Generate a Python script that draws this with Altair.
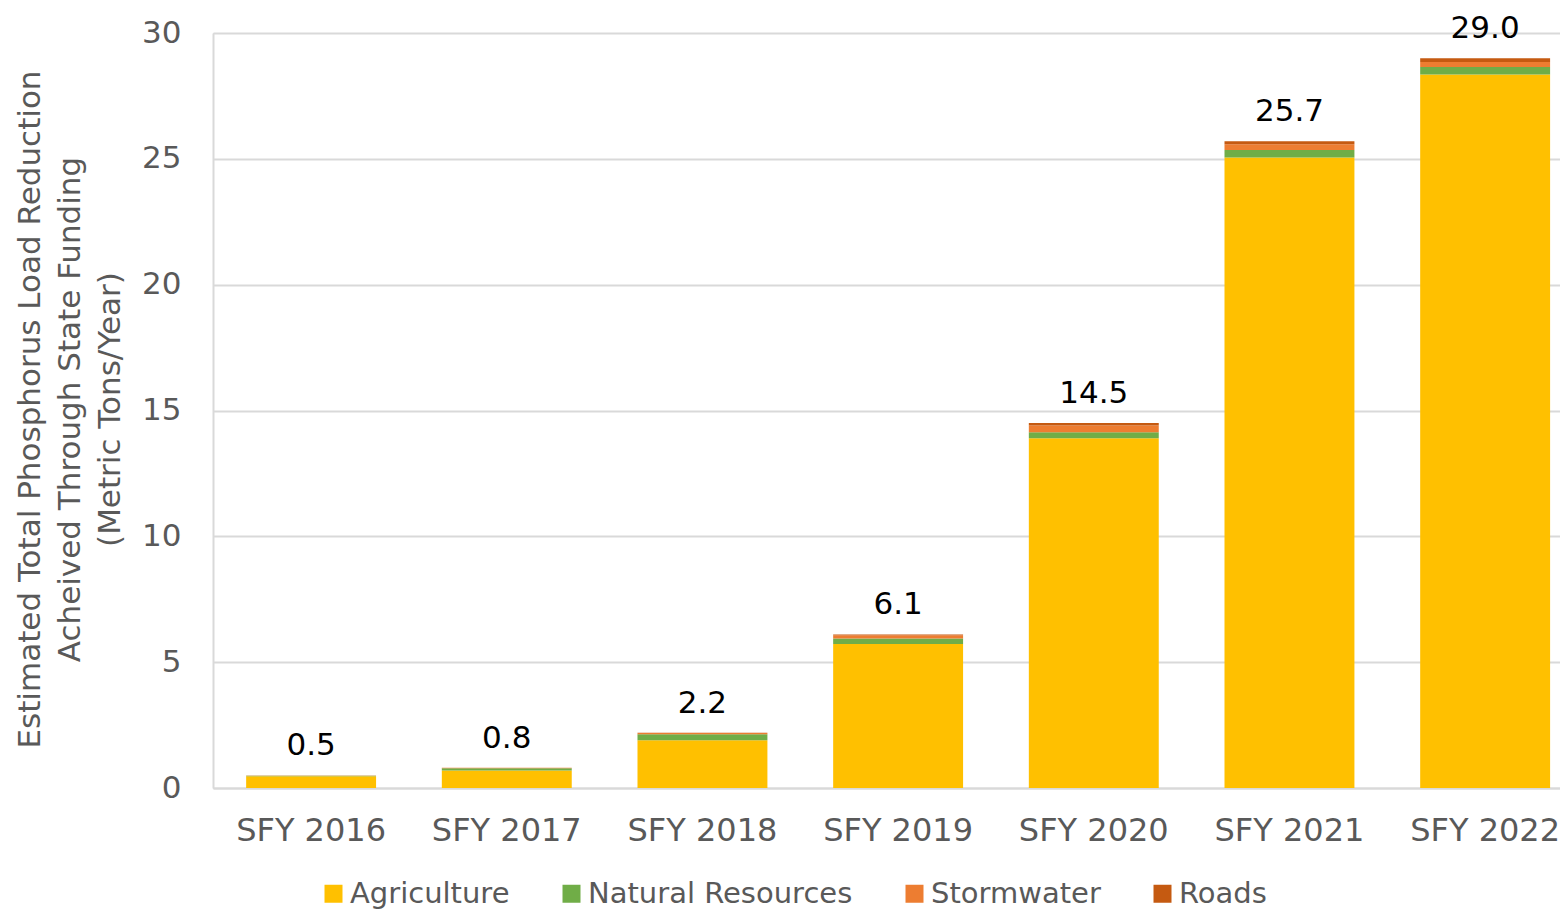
import altair as alt
import pandas as pd

years = ["SFY 2016", "SFY 2017", "SFY 2018", "SFY 2019", "SFY 2020", "SFY 2021", "SFY 2022"]
series = ["Agriculture", "Natural Resources", "Stormwater", "Roads"]
colors = ["#FFC000", "#70AD47", "#ED7D31", "#C55A11"]
agriculture = [0.47, 0.70, 1.90, 5.72, 13.90, 25.05, 28.35]
natural_resources = [0.02, 0.08, 0.24, 0.22, 0.24, 0.30, 0.30]
stormwater = [0.01, 0.02, 0.05, 0.13, 0.26, 0.23, 0.20]
roads = [0.00, 0.00, 0.01, 0.03, 0.10, 0.12, 0.15]
y_ticks = [0, 5, 10, 15, 20, 25, 30]

rows = []
for vals, name in zip([agriculture, natural_resources, stormwater, roads], series):
    for yr, v in zip(years, vals):
        rows.append({"year": yr, "series": name, "value": v, "order": series.index(name)})
df = pd.DataFrame(rows)

FONT = "DejaVu Sans"
GRAY = "#595959"

x = alt.X("year:N", sort=years,
          scale=alt.Scale(paddingInner=0.336, paddingOuter=0.11, align=0.77),
          axis=alt.Axis(title=None, labelFont=FONT, labelFontSize=32, labelColor=GRAY,
                        labelAngle=0, labelPadding=27, ticks=False, domainColor="#d9d9d9",
                        domainWidth=2, grid=False))

bars = alt.Chart(df).mark_bar(stroke=None).encode(
    x=x,
    y=alt.Y("sum(value):Q", stack="zero",
            scale=alt.Scale(domain=[0, 30], nice=False),
            axis=alt.Axis(values=y_ticks, title=["Estimated Total Phosphorus Load Reduction",
                                                  "Acheived Through State Funding",
                                                  "(Metric Tons/Year)"],
                          titleFont=FONT, titleFontSize=31, titleFontWeight="normal",
                          titleColor=GRAY, titleLineHeight=40,
                          titleX=-198, titleY=376, titleAngle=-90, titleAlign="center",
                          titleBaseline="top",
                          labelFont=FONT, labelFontSize=31, labelColor=GRAY, labelPadding=32,
                          ticks=False, domain=True, domainColor="#d9d9d9", domainWidth=2,
                          gridColor="#d9d9d9", gridWidth=2)),
    color=alt.Color("series:N", sort=series,
                    scale=alt.Scale(domain=series, range=colors),
                    legend=alt.Legend(title=None, orient="none", direction="horizontal",
                                      legendX=106, legendY=846,
                                      symbolType="square", symbolSize=324,
                                      symbolStrokeWidth=0, symbolOpacity=1,
                                      labelFont=FONT, labelFontSize=29, labelColor=GRAY,
                                      labelLimit=0, labelOffset=2, columnPadding=47)),
    order=alt.Order("order:Q", sort="ascending"),
)

labels = alt.Chart(df).transform_aggregate(
    total="sum(value)", groupby=["year"]
).mark_text(font=FONT, fontSize=31, color="#000000", baseline="alphabetic", dy=-20).encode(
    x=alt.X("year:N", sort=years),
    y=alt.Y("total:Q"),
    text=alt.Text("total:Q", format=".1f"),
)

chart = alt.layer(bars, labels).properties(
    width=1347, height=755,
    autosize=alt.AutoSizeParams(type="none"),
    padding={"left": 205, "top": 25, "right": 0, "bottom": 124},
).configure_view(stroke=None).configure(background="white")

chart.save("out.html", embed_options={"renderer": "svg", "actions": False})
